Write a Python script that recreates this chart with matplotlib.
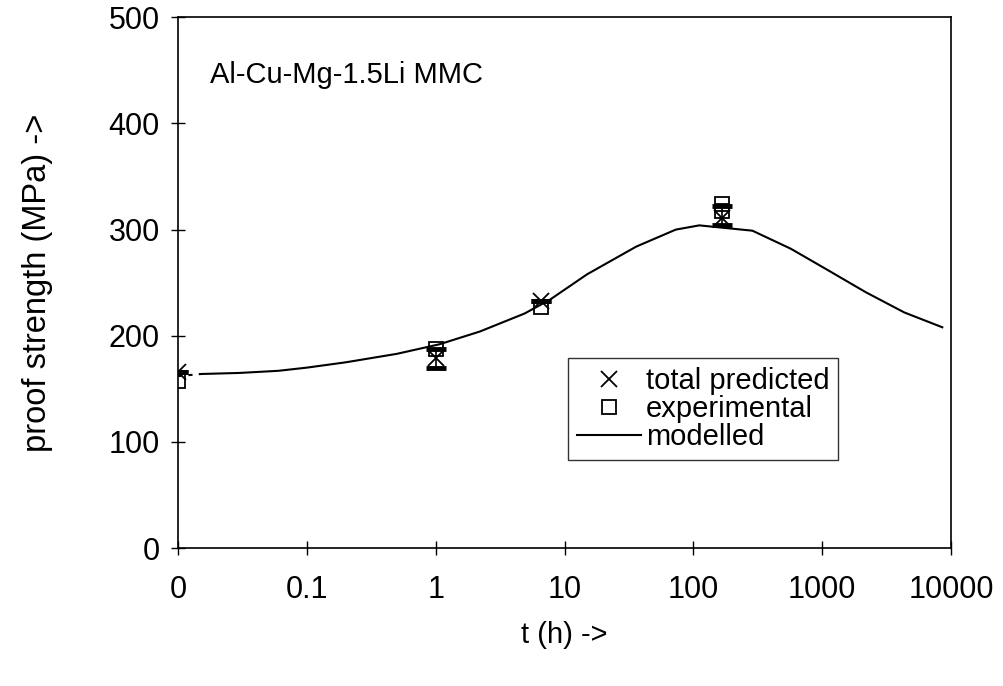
from matplotlib import pyplot as plt

plt.rcParams['font.family'] = ['Liberation Sans', 'DejaVu Sans']

# time 0 is drawn at 0.01 h on the log axis
tick_pos = [0.01, 0.1, 1, 10, 100, 1000, 10000]
tick_lab = ['0', '0.1', '1', '10', '100', '1000', '10000']

pred_t = [0.01, 1, 6.6, 168]
pred_y = [166, 179, 233, 311]
pred_lo = [166, 170, 233, 304]
pred_hi = [166, 188, 233, 322]

exp_t = [0.01, 1, 6.6, 168, 168]
exp_y = [157, 188, 227, 324, 318]

mod_t = [0.015, 0.03, 0.06, 0.1, 0.2, 0.5, 1.07, 2.2, 4.9, 7.7, 15, 36, 73, 111,
         287, 570, 1100, 2180, 4330, 8550]
mod_y = [164, 165, 167, 170, 175, 183, 192, 204, 221, 234, 258, 284, 300, 304,
         299, 282, 262, 241, 222, 208]
dot_t = [0.01, 0.015]
dot_y = [162, 164]

fig = plt.figure(figsize=(10.04, 6.86), dpi=100)
ax = fig.add_axes([0.1773, 0.201, 0.770, 0.7738])

yerr = [[y - lo for y, lo in zip(pred_y, pred_lo)],
        [hi - y for y, hi in zip(pred_y, pred_hi)]]
ax.errorbar(pred_t, pred_y, yerr=yerr, fmt='none', ecolor='black',
            elinewidth=1.2, capsize=7, capthick=3.5)
ax.plot(pred_t, pred_y, linestyle='none', marker='x', color='black',
        markersize=11, markeredgewidth=1.3, label='total predicted')
ax.plot(exp_t, exp_y, linestyle='none', marker='s', markerfacecolor='none',
        markeredgecolor='black', markersize=10, markeredgewidth=1.3,
        label='experimental')
ax.plot(mod_t, mod_y, color='black', linewidth=1.5, label='modelled')
ax.plot(dot_t, dot_y, color='black', linewidth=1.5, linestyle=(0, (2, 3)))

ax.set_xscale('log')
ax.set_xlim(0.01, 10000)
ax.set_ylim(0, 500)
ax.set_xticks(tick_pos)
ax.set_xticklabels(tick_lab)
ax.minorticks_off()
ax.set_yticks([0, 100, 200, 300, 400, 500])
ax.tick_params(axis='both', direction='inout', length=10, width=1,
               labelsize=22)
ax.tick_params(axis='x', pad=14)
ax.tick_params(axis='y', pad=8)
for s in ax.spines.values():
    s.set_linewidth(1.2)

ax.text(0.041, 0.891, 'Al-Cu-Mg-1.5Li MMC', transform=ax.transAxes,
        fontsize=21, va='center', ha='left')

ax.set_xlabel('t (h) ->', fontsize=21, labelpad=12)
ax.set_ylabel('proof strength (MPa) ->', fontsize=23.5, labelpad=40)

leg = ax.legend(loc='lower left', bbox_to_anchor=(0.505, 0.166), fontsize=21,
                frameon=True, fancybox=False, edgecolor='black',
                handlelength=2.2, handletextpad=0.15, borderpad=0.3,
                labelspacing=0.0, borderaxespad=0)
leg.get_frame().set_linewidth(1.0)

plt.savefig('out.png', dpi=100)
